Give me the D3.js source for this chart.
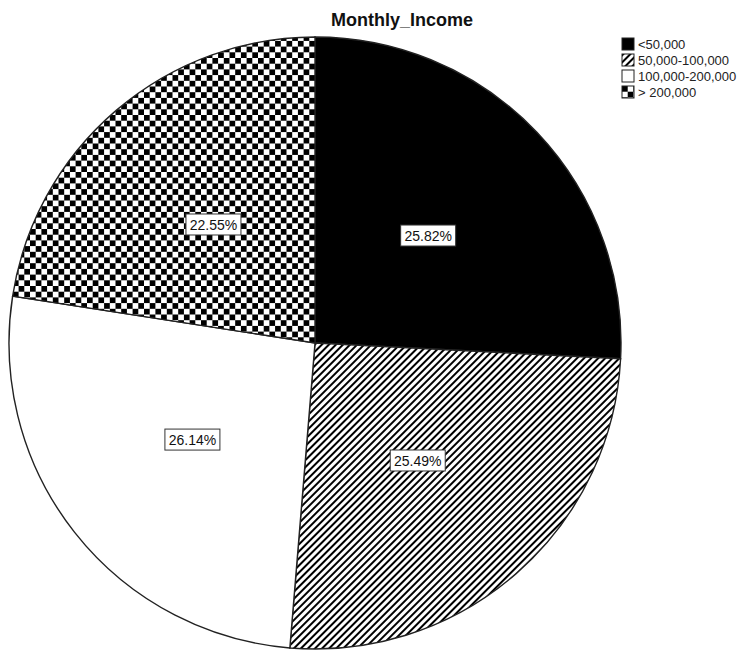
<!DOCTYPE html>
<html>
<head>
<meta charset="utf-8">
<script src="https://cdn.jsdelivr.net/npm/d3@7"></script>
<style>
  body { margin: 0; background: #fff; }
  text { font-family: Arial, "Liberation Sans", sans-serif; }
</style>
</head>
<body>
<svg id="chart"></svg>
<script>
const categories = ["<50,000", "50,000-100,000", "100,000-200,000", "> 200,000"];
const percents = [25.82, 25.49, 26.14, 22.55];
const fills = ["black", "url(#hatch)", "white", "url(#checker)"];

const width = 750;
const height = 653;
const cx = 315;
const cy = 343;
const radius = 306;

const svg = d3.select("#chart").attr("width", width).attr("height", height);

const defs = svg.append("defs");

// diagonal hatch, lines rising to the right
const hatch = defs.append("pattern")
  .attr("id", "hatch")
  .attr("patternUnits", "userSpaceOnUse")
  .attr("width", 5)
  .attr("height", 5)
  .attr("patternTransform", "rotate(45)");
hatch.append("rect").attr("width", 5).attr("height", 5).attr("fill", "white");
hatch.append("line")
  .attr("x1", 0).attr("y1", 0).attr("x2", 0).attr("y2", 5)
  .attr("stroke", "black").attr("stroke-width", 4);

// checkerboard
const cell = 5.7;
const checker = defs.append("pattern")
  .attr("id", "checker")
  .attr("patternUnits", "userSpaceOnUse")
  .attr("width", cell * 2)
  .attr("height", cell * 2);
checker.append("rect").attr("width", cell * 2).attr("height", cell * 2).attr("fill", "white");
checker.append("rect").attr("width", cell).attr("height", cell).attr("fill", "black");
checker.append("rect").attr("x", cell).attr("y", cell).attr("width", cell).attr("height", cell).attr("fill", "black");

const data = categories.map((c, i) => ({ name: c, value: percents[i], fill: fills[i] }));

const pie = d3.pie().value(d => d.value).sort(null);
const arc = d3.arc().innerRadius(0).outerRadius(radius);
const labelArc = d3.arc().innerRadius(radius * 0.51).outerRadius(radius * 0.51);

const g = svg.append("g").attr("transform", `translate(${cx},${cy})`);
const arcs = pie(data);

g.selectAll("path.slice")
  .data(arcs)
  .enter()
  .append("path")
  .attr("class", "slice")
  .attr("d", arc)
  .attr("fill", d => d.data.fill)
  .attr("stroke", "#222")
  .attr("stroke-width", 1.4);

// labels with boxes
const labels = g.selectAll("g.label")
  .data(arcs)
  .enter()
  .append("g")
  .attr("class", "label")
  .attr("transform", d => `translate(${labelArc.centroid(d)})`);

labels.append("rect")
  .attr("x", -27.5)
  .attr("y", -10.5)
  .attr("width", 55)
  .attr("height", 21)
  .attr("fill", "white")
  .attr("stroke", "#333")
  .attr("stroke-width", 1);

labels.append("text")
  .attr("text-anchor", "middle")
  .attr("dy", "0.36em")
  .attr("font-size", 14)
  .attr("fill", "#111")
  .text(d => d.data.value.toFixed(2) + "%");

// title
svg.append("text")
  .attr("x", 331)
  .attr("y", 26)
  .attr("font-size", 18)
  .attr("font-weight", "bold")
  .attr("fill", "#111")
  .text("Monthly_Income");

// legend
const legend = svg.append("g").attr("transform", "translate(622,38)");
const rows = legend.selectAll("g")
  .data(data)
  .enter()
  .append("g")
  .attr("transform", (d, i) => `translate(0,${i * 16})`);

rows.append("rect")
  .attr("width", 12)
  .attr("height", 12)
  .attr("fill", d => d.fill)
  .attr("stroke", "#222")
  .attr("stroke-width", 1);

rows.append("text")
  .attr("x", 16)
  .attr("y", 11)
  .attr("font-size", 13)
  .attr("fill", "#222")
  .text(d => d.name);
</script>
</body>
</html>
